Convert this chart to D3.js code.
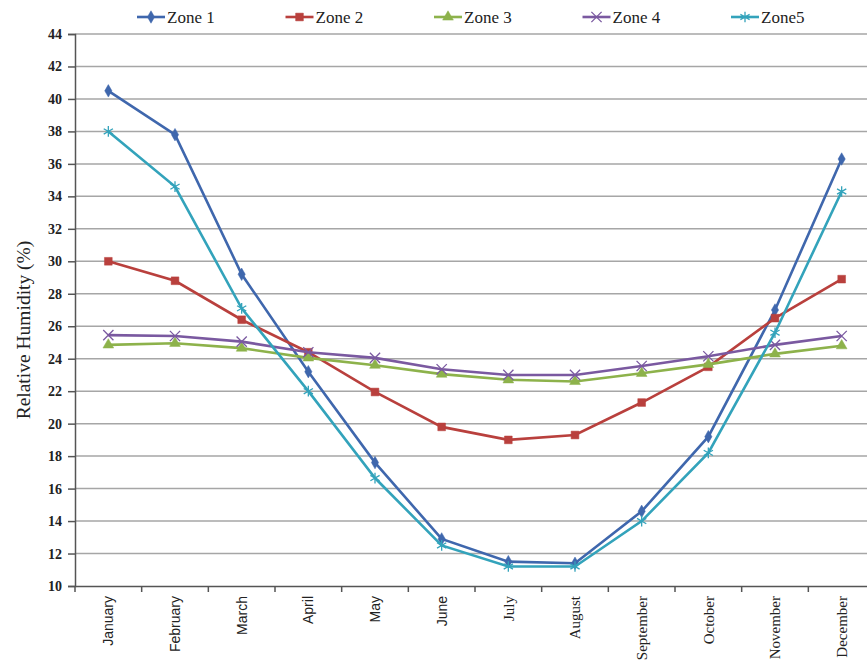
<!DOCTYPE html>
<html>
<head>
<meta charset="utf-8">
<script src="https://cdn.jsdelivr.net/npm/d3@7/dist/d3.min.js"></script>
<style>
  body { margin: 0; background: #fff; }
  svg { display: block; }
</style>
</head>
<body>
<div id="chart"></div>
<script>
// data
var months = ["January", "February", "March", "April", "May", "June",
    "July", "August", "September", "October", "November", "December"];
var zoneNames = ["Zone 1", "Zone 2", "Zone 3", "Zone 4", "Zone5"];
var zone1 = [40.5, 37.8, 29.2, 23.2, 17.6, 12.9, 11.5, 11.4, 14.6, 19.2, 27.0, 36.3];
var zone2 = [30.0, 28.8, 26.4, 24.4, 21.95, 19.8, 19.0, 19.3, 21.3, 23.5, 26.5, 28.9];
var zone3 = [24.85, 24.95, 24.65, 24.05, 23.6, 23.05, 22.7, 22.6, 23.1, 23.65, 24.3, 24.8];
var zone4 = [25.45, 25.4, 25.05, 24.4, 24.05, 23.35, 23.0, 23.0, 23.55, 24.15, 24.85, 25.4];
var zone5 = [38.0, 34.6, 27.1, 22.0, 16.65, 12.5, 11.2, 11.2, 14.0, 18.2, 25.6, 34.3];
var yTicks = d3.range(10, 45, 2);

var series = [zone1, zone2, zone3, zone4, zone5];
var colors = ["#3f67ad", "#b9403d", "#8db24b", "#7a59a0", "#33a3bb"];
var markers = ["diamond", "square", "triangle", "cross", "star"];

var W = 867, H = 664;
var margin = { top: 34, right: -8, bottom: 78, left: 75 },
    width = W - margin.left - margin.right,
    height = H - margin.top - margin.bottom;

var svg = d3.select("#chart")
    .append("svg")
    .attr("width", W)
    .attr("height", H)
    .append("g")
    .attr("transform", "translate(" + margin.left + "," + margin.top + ")");

var x = d3.scaleBand().domain(months).range([0, width]);
var y = d3.scaleLinear().domain([10, 44]).range([height, 0]);

// grid
svg.append("g")
    .selectAll("line")
    .data(yTicks.filter(function (d) { return d > 10; }))
    .enter().append("line")
    .attr("x1", 0).attr("x2", width)
    .attr("y1", function (d) { return y(d); })
    .attr("y2", function (d) { return y(d); })
    .attr("stroke", "#a6a6a6")
    .attr("stroke-width", 1.5);

// y axis
var yAxis = svg.append("g")
    .call(d3.axisLeft(y).tickValues(yTicks).tickSize(7).tickPadding(6));
yAxis.selectAll("text")
    .attr("font-family", "Liberation Serif, serif")
    .attr("font-weight", "bold")
    .attr("font-size", 14)
    .attr("fill", "#222");
yAxis.selectAll("line, path").attr("stroke", "#555").attr("stroke-width", 1.5);

// x axis
var xAxis = svg.append("g")
    .attr("transform", "translate(0," + height + ")")
    .call(d3.axisBottom(x).tickSize(0).tickPadding(0));
xAxis.select("path").attr("stroke", "#555").attr("stroke-width", 1.5);
xAxis.selectAll("text")
    .attr("transform", "rotate(-90)")
    .attr("text-anchor", "end")
    .attr("x", -10)
    .attr("y", 0)
    .attr("dy", "0.35em")
    .attr("font-family", function (d, i) { return i < 6 ? "Liberation Sans, sans-serif" : "Liberation Serif, serif"; })
    .attr("font-size", function (d, i) { return i < 6 ? 14 : 15; })
    .attr("fill", "#222");
// category separators
svg.append("g")
    .selectAll("line")
    .data(months)
    .enter().append("line")
    .attr("x1", function (d) { return x(d); })
    .attr("x2", function (d) { return x(d); })
    .attr("y1", height).attr("y2", height + 6)
    .attr("stroke", "#555").attr("stroke-width", 1.5);

// y axis label
svg.append("text")
    .attr("transform", "rotate(-90)")
    .attr("x", -296)
    .attr("y", -45)
    .attr("text-anchor", "middle")
    .attr("font-family", "Liberation Serif, serif")
    .attr("font-size", 19.5)
    .attr("fill", "#222")
    .text("Relative Humidity (%)");

function markerPath(type) {
    var sym = {
        diamond: d3.symbol().type(d3.symbolDiamond).size(45),
        square: d3.symbol().type(d3.symbolSquare).size(60),
        triangle: d3.symbol().type(d3.symbolTriangle).size(50),
        cross: d3.symbol().type(d3.symbolX).size(70),
        star: d3.symbol().type(d3.symbolAsterisk).size(80)
    };
    return sym[type]();
}

var line = d3.line()
    .x(function (d, i) { return x(months[i]) + x.bandwidth() / 2; })
    .y(function (d) { return y(d); });

series.forEach(function (s, k) {
    var g = svg.append("g");
    g.append("path")
        .attr("d", line(s))
        .attr("fill", "none")
        .attr("stroke", colors[k])
        .attr("stroke-width", 2.6);
    var open = markers[k] === "cross" || markers[k] === "star";
    g.selectAll("path.m")
        .data(s)
        .enter().append("path")
        .attr("class", "m")
        .attr("d", markerPath(markers[k]))
        .attr("transform", function (d, i) {
            return "translate(" + (x(months[i]) + x.bandwidth() / 2) + "," + y(d) + ")";
        })
        .attr("fill", open ? "none" : colors[k])
        .attr("stroke", colors[k])
        .attr("stroke-width", open ? 1.3 : 0.5);
});

// legend
var legend = svg.append("g")
    .attr("transform", "translate(" + (137 - margin.left) + "," + (17 - margin.top) + ")");
zoneNames.forEach(function (n, k) {
    var g = legend.append("g").attr("transform", "translate(" + (k * 148.5) + ",0)");
    g.append("line")
        .attr("x1", 0).attr("x2", 28)
        .attr("stroke", colors[k]).attr("stroke-width", 2.6);
    var open = markers[k] === "cross" || markers[k] === "star";
    g.append("path")
        .attr("d", markerPath(markers[k]))
        .attr("transform", "translate(14,0)")
        .attr("fill", open ? "none" : colors[k])
        .attr("stroke", colors[k])
        .attr("stroke-width", open ? 1.3 : 0.5);
    g.append("text")
        .attr("x", 30)
        .attr("dy", "0.35em")
        .attr("font-family", "Liberation Serif, serif")
        .attr("font-size", 17)
        .attr("fill", "#222")
        .text(n);
});
</script>
</body>
</html>
